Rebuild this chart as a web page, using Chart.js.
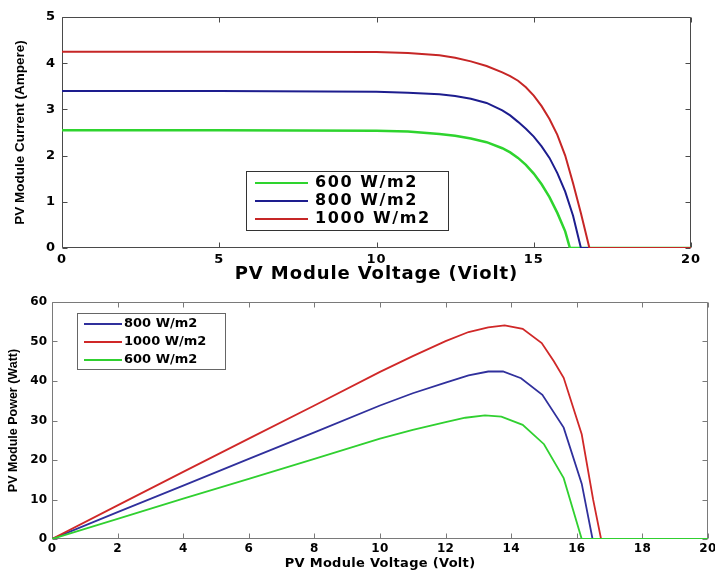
<!DOCTYPE html>
<html>
<head>
<meta charset="utf-8">
<title>PV module characteristics</title>
<script src="https://cdn.jsdelivr.net/npm/chart.js@4.4.1/dist/chart.umd.min.js"></script>
<style>
  html, body { margin: 0; padding: 0; background: #fff; }
  body { width: 715px; height: 570px; position: relative; overflow: hidden; }
  canvas { position: absolute; left: 0; }
  #iv { top: 0; }
  #pv { top: 285px; }
</style>
</head>
<body>
<canvas id="iv" width="715" height="285"></canvas>
<canvas id="pv" width="715" height="285"></canvas>
<script>
// ----- I-V curves (volt / ampere) -----
const ivVolt600  = [0, 5, 10, 11, 12, 12.5, 13, 13.5, 14, 14.25, 14.5, 14.75, 15, 15.25, 15.5, 15.75, 16, 16.15, 20];
const ivAmp600   = [2.55, 2.55, 2.54, 2.52, 2.47, 2.43, 2.37, 2.29, 2.16, 2.07, 1.95, 1.80, 1.61, 1.38, 1.10, 0.76, 0.36, 0, 0];
const ivVolt800  = [0, 5, 10, 11, 12, 12.5, 13, 13.5, 14, 14.25, 14.5, 14.75, 15, 15.25, 15.5, 15.75, 16, 16.25, 16.5, 20];
const ivAmp800   = [3.40, 3.40, 3.38, 3.36, 3.33, 3.29, 3.23, 3.14, 2.98, 2.87, 2.73, 2.58, 2.41, 2.20, 1.95, 1.62, 1.22, 0.70, 0, 0];
const ivVolt1000 = [0, 5, 10, 11, 12, 12.5, 13, 13.5, 14, 14.25, 14.5, 14.75, 15, 15.25, 15.5, 15.75, 16, 16.25, 16.5, 16.77, 20];
const ivAmp1000  = [4.25, 4.25, 4.24, 4.22, 4.17, 4.12, 4.04, 3.94, 3.80, 3.72, 3.62, 3.48, 3.30, 3.07, 2.79, 2.45, 2.00, 1.40, 0.75, 0, 0];

// ----- P-V curves (volt / watt) -----
const pvVolt800  = [0, 2, 4, 6, 8, 10, 11, 12, 12.7, 13.3, 13.75, 14.3, 14.95, 15.6, 16.15, 16.48, 20];
const pvWatt800  = [0, 6.8, 13.5, 20.3, 27, 33.8, 36.9, 39.6, 41.4, 42.4, 42.4, 40.7, 36.5, 28.2, 14, 0, 0];
const pvVolt1000 = [0, 2, 4, 6, 8, 10, 11, 12, 12.7, 13.3, 13.8, 14.35, 14.93, 15.3, 15.6, 16.15, 16.5, 16.74, 20];
const pvWatt1000 = [0, 8.5, 17, 25.4, 33.8, 42.3, 46.3, 50.1, 52.4, 53.6, 54.1, 53.2, 49.6, 45, 40.8, 26.5, 9.9, 0, 0];
const pvVolt600  = [0, 2, 4, 6, 8, 10, 11, 12, 12.6, 13.2, 13.7, 14.35, 15.0, 15.6, 16.15, 20];
const pvWatt600  = [0, 5.1, 10.2, 15.2, 20.3, 25.4, 27.6, 29.6, 30.7, 31.3, 31.0, 28.9, 24, 15.4, 0, 0];

const irradiance = ['600 W/m2', '800 W/m2', '1000 W/m2'];

const voltRange = [0, 20];
const ampRange = [0, 5];
const wattRange = [0, 60];

const GREEN = '#2ed42e';
const BLUE = '#1d1d8e';
const RED = '#c62626';

const pts = (xs, ys) => xs.map((x, i) => ({x: x, y: ys[i]}));

// box round the plot with small inward tick marks on all four sides
const frame = {
  id: 'frame',
  beforeDatasetsDraw(chart, args, o) {
    const {ctx, chartArea: a, scales} = chart;
    const L = Math.round(a.left) + .5, R = Math.round(a.right) - .5;
    const T = Math.round(a.top) + .5, B = Math.round(a.bottom) - .5;
    ctx.save();
    ctx.strokeStyle = o.color;
    ctx.lineWidth = 1;
    ctx.beginPath();
    scales.x.ticks.forEach(t => {
      const x = Math.round(scales.x.getPixelForValue(t.value)) + .5;
      ctx.moveTo(x, B); ctx.lineTo(x, B - o.tick);
      ctx.moveTo(x, T); ctx.lineTo(x, T + o.tick);
    });
    scales.y.ticks.forEach(t => {
      const y = Math.round(scales.y.getPixelForValue(t.value)) + .5;
      ctx.moveTo(L, y); ctx.lineTo(L + o.tick, y);
      ctx.moveTo(R, y); ctx.lineTo(R - o.tick, y);
    });
    ctx.rect(L, T, R - L, B - T);
    ctx.stroke();
    ctx.restore();
  }
};

// legend drawn as a framed box inside the plot
const boxLegend = {
  id: 'boxLegend',
  afterDraw(chart, args, o) {
    const ctx = chart.ctx;
    ctx.save();
    ctx.fillStyle = '#fff';
    ctx.fillRect(o.x, o.y, o.w, o.h);
    ctx.strokeStyle = o.border;
    ctx.lineWidth = 1;
    ctx.strokeRect(o.x + .5, o.y + .5, o.w, o.h);
    ctx.font = o.font;
    ctx.letterSpacing = o.spacing + 'px';
    ctx.textBaseline = 'middle';
    ctx.textAlign = 'left';
    chart.data.datasets.forEach((ds, i) => {
      const y = o.y + o.first + i * o.row;
      ctx.strokeStyle = ds.borderColor;
      ctx.lineWidth = o.lineWidth;
      ctx.beginPath();
      ctx.moveTo(o.lineX, y);
      ctx.lineTo(o.lineX + o.lineLen, y);
      ctx.stroke();
      ctx.fillStyle = '#000';
      ctx.fillText(ds.label, o.textX, y);
    });
    ctx.restore();
  }
};

// spreads the letters of tick labels / axis titles (wide bold lettering)
const spread = {
  id: 'spread',
  beforeDraw(chart, args, o) {
    Object.values(chart.scales).forEach(scale => {
      const sp = o[scale.id];
      if (!sp || scale._spread) return;
      scale._spread = true;
      [['drawLabels', sp.ticks], ['drawTitle', sp.title]].forEach(([name, px]) => {
        const base = scale[name];
        scale[name] = function () {
          const ctx = this.ctx;
          ctx.save();
          ctx.letterSpacing = px + 'px';
          base.apply(this, arguments);
          ctx.restore();
        };
      });
    });
  }
};

function axis(range, step, tickFont, tickPad, title, titleFont, titlePad) {
  return {
    type: 'linear',
    min: range[0],
    max: range[1],
    grid: {display: false, drawTicks: false},
    border: {display: false},
    ticks: {stepSize: step, autoSkip: false, maxRotation: 0, padding: tickPad, color: '#000', font: tickFont},
    title: {display: true, text: title, color: '#000', font: titleFont, padding: titlePad}
  };
}

const bold = (family, size) => ({family: family, size: size, weight: 'bold'});

// ----- current vs voltage -----
const ivX = axis(voltRange, 5, bold('DejaVu Sans', 13), 4, 'PV Module Voltage (Violt)',
  bold('DejaVu Sans', 18), {top: 0, bottom: 0});
ivX.afterFit = s => { s.height = 37; s.paddingLeft = 0; s.paddingRight = 0; };
const ivY = axis(ampRange, 1, bold('DejaVu Sans', 13), 7, 'PV Module Current (Ampere)',
  bold('Liberation Sans', 13.5), {top: 12, bottom: 0});
ivY.afterFit = s => { s.width = 62; s.paddingTop = 0; s.paddingBottom = 0; };

new Chart(document.getElementById('iv'), {
  type: 'line',
  data: {
    datasets: [
      {label: irradiance[0], data: pts(ivVolt600, ivAmp600), borderColor: GREEN, borderWidth: 2.5, order: 2},
      {label: irradiance[1], data: pts(ivVolt800, ivAmp800), borderColor: BLUE, borderWidth: 2, order: 1},
      {label: irradiance[2], data: pts(ivVolt1000, ivAmp1000), borderColor: RED, borderWidth: 2, order: 0}
    ]
  },
  options: {
    responsive: false,
    animation: false,
    devicePixelRatio: 1,
    events: [],
    elements: {point: {radius: 0}, line: {tension: 0, fill: false}},
    layout: {padding: {left: 0, top: 17, right: 24, bottom: 0}},
    scales: {x: ivX, y: ivY},
    plugins: {
      legend: {display: false},
      tooltip: {enabled: false},
      frame: {color: '#4a4a4a', tick: 5},
      spread: {x: {ticks: 1, title: 0.9}, y: {ticks: 0, title: 0}},
      boxLegend: {
        x: 246, y: 171, w: 202, h: 59, first: 12, row: 18,
        lineX: 255, lineLen: 53, lineWidth: 2, textX: 315,
        font: 'bold 16px "DejaVu Sans"', spacing: 1.6, border: '#333'
      }
    }
  },
  plugins: [frame, boxLegend, spread]
});

// ----- power vs voltage -----
const pvX = axis(voltRange, 2, bold('DejaVu Sans', 12), 3, 'PV Module Voltage (Volt)',
  bold('DejaVu Sans', 13), {top: 0, bottom: -1.5});
pvX.afterFit = s => { s.height = 31; s.paddingLeft = 0; s.paddingRight = 0; };
const pvY = axis(wattRange, 10, bold('DejaVu Sans', 12), 5, 'PV Module Power (Watt)',
  bold('Liberation Sans', 12.5), {top: 6.5, bottom: 0});
pvY.afterFit = s => { s.width = 52; s.paddingTop = 0; s.paddingBottom = 0; };

new Chart(document.getElementById('pv'), {
  type: 'line',
  data: {
    datasets: [
      {label: irradiance[1], data: pts(pvVolt800, pvWatt800), borderColor: '#30309c', borderWidth: 1.8, order: 2},
      {label: irradiance[2], data: pts(pvVolt1000, pvWatt1000), borderColor: '#d02828', borderWidth: 1.8, order: 1},
      {label: irradiance[0], data: pts(pvVolt600, pvWatt600), borderColor: '#30d030', borderWidth: 1.8, order: 0}
    ]
  },
  options: {
    responsive: false,
    animation: false,
    devicePixelRatio: 1,
    events: [],
    elements: {point: {radius: 0}, line: {tension: 0, fill: false}},
    layout: {padding: {left: 0, top: 17, right: 7, bottom: 0}},
    scales: {x: pvX, y: pvY},
    plugins: {
      legend: {display: false},
      tooltip: {enabled: false},
      frame: {color: '#7a7a7a', tick: 5},
      spread: {x: {ticks: 0.3, title: 0.3}, y: {ticks: 0, title: 0}},
      boxLegend: {
        x: 77, y: 28, w: 148, h: 56, first: 11, row: 18,
        lineX: 84, lineLen: 38, lineWidth: 1.8, textX: 124,
        font: 'bold 13px "DejaVu Sans"', spacing: 0, border: '#666'
      }
    }
  },
  plugins: [frame, boxLegend, spread]
});
</script>
</body>
</html>
